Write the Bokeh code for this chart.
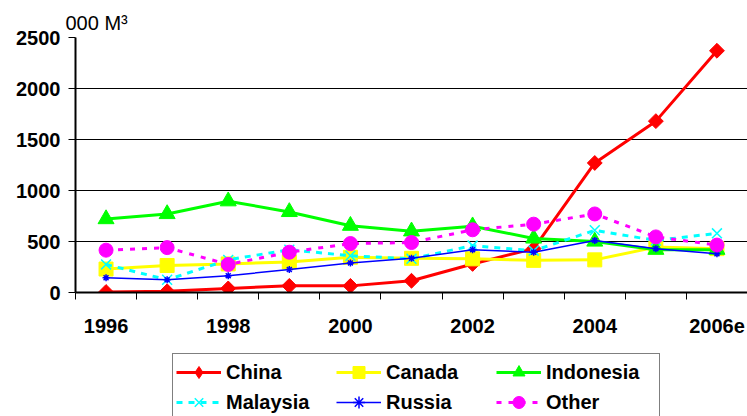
import math
from bokeh.plotting import figure
from bokeh.layouts import column
from bokeh.models import FixedTicker, Legend, LegendItem, Range1d
from bokeh.embed import file_html
from bokeh.resources import INLINE

years = ["1996", "1997", "1998", "1999", "2000", "2001", "2002", "2003", "2004", "2005", "2006e"]
tick_labels = ["1996", "1998", "2000", "2002", "2004", "2006e"]
china = [5, 12, 40, 65, 65, 115, 280, 430, 1270, 1680, 2370]
canada = [230, 265, 280, 300, 345, 335, 330, 315, 320, 445, 430]
indonesia = [720, 770, 895, 790, 655, 600, 650, 530, 500, 420, 420]
malaysia = [275, 125, 320, 420, 360, 330, 460, 410, 610, 510, 580]
russia = [145, 125, 165, 225, 290, 335, 420, 395, 510, 430, 380]
other = [415, 440, 275, 395, 480, 490, 615, 670, 770, 545, 465]

FONT = "Liberation Sans"
x = list(range(len(years)))

p = figure(width=747, height=343, output_backend="svg", toolbar_location=None,
           x_range=Range1d(-0.5, len(years) - 0.5), y_range=Range1d(0, 2500),
           min_border_left=75, min_border_top=37, min_border_bottom=51, min_border_right=0,
           title="000 M³")
p.outline_line_color = None
p.background_fill_color = "white"
p.title.text_font = FONT
p.title.text_font_size = "20px"
p.title.text_font_style = "normal"
p.title.text_color = "black"
p.title.align = "left"
p.title.offset = -10
p.title.standoff = 7

# axes
p.xaxis.ticker = FixedTicker(ticks=[i for i, y in enumerate(years) if y in tick_labels],
                             minor_ticks=[i + 0.5 for i in range(-1, len(years))])
p.xaxis.major_label_overrides = {i: y for i, y in enumerate(years)}
p.xaxis.major_tick_out = 0
p.xaxis.major_tick_in = 0
p.xaxis.minor_tick_out = 7
p.xaxis.minor_tick_in = 0
p.xaxis.minor_tick_line_color = "black"
p.xaxis.minor_tick_line_width = 1
p.xaxis.major_label_standoff = 19
p.yaxis.ticker = FixedTicker(ticks=[0, 500, 1000, 1500, 2000, 2500])
p.yaxis.minor_tick_line_color = None
p.yaxis.major_tick_out = 7
p.yaxis.major_tick_in = 0
p.yaxis.major_label_standoff = 8
for ax in (p.xaxis, p.yaxis):
    ax.axis_line_color = "black"
    ax.axis_line_width = 2
    ax.major_tick_line_color = "black"
    ax.major_label_text_font = FONT
    ax.major_label_text_font_style = "bold"
    ax.major_label_text_font_size = "20px"
    ax.major_label_text_color = "black"
p.xgrid.grid_line_color = None
p.ygrid.grid_line_color = "black"
p.ygrid.grid_line_width = 1.2

# name, values, colour, chart marker, size, line width, dash, angle, legend marker
series = [
    ("China", china, "#FF0000", "square", 10.5, 3, "solid", math.pi / 4, "diamond"),
    ("Canada", canada, "#FFFF00", "square", 14, 3, "solid", 0, "square"),
    ("Indonesia", indonesia, "#00FF00", "triangle", 16, 3, "solid", 0, "triangle"),
    ("Malaysia", malaysia, "#00FFFF", "x", 14, 3, "6 6", 0, "x"),
    ("Russia", russia, "#0000FF", "asterisk", 7, 1.5, "solid", 0, "asterisk"),
    ("Other", other, "#FF00FF", "circle", 14, 3, "5 7", 0, "circle"),
]

# legend lives in its own strip below the chart (its ranges hide the stand-in glyphs)
lg = figure(width=747, height=73, output_backend="svg", toolbar_location=None,
            x_range=Range1d(0, 1), y_range=Range1d(0, 1), x_axis_type=None, y_axis_type=None,
            min_border=0)
lg.outline_line_color = None
lg.xgrid.grid_line_color = None
lg.ygrid.grid_line_color = None

items = {}
for name, vals, color, marker, size, lw, dash, ang, lmarker in series:
    p.line(x, vals, line_color=color, line_width=lw, line_dash=dash)
    if marker in ("x", "asterisk"):
        p.scatter(x, vals, marker=marker, size=size, line_color=color, line_width=1.5)
    else:
        p.scatter(x, vals, marker=marker, size=size, angle=ang, fill_color=color, line_color=color)
    hx, hy = [5], [5]
    lr = lg.line(hx, hy, line_color=color, line_width=lw, line_dash=dash)
    if lmarker in ("x", "asterisk"):
        mr = lg.scatter(hx, hy, marker=lmarker, size=size, line_color=color, line_width=1.5)
    else:
        mr = lg.scatter(hx, hy, marker=lmarker, size=size, fill_color=color, line_color=color)
    items[name] = LegendItem(label=name, renderers=[lr, mr])

# column-major fill: rows read China/Canada/Indonesia, Malaysia/Russia/Other
order = ["China", "Malaysia", "Canada", "Russia", "Indonesia", "Other"]
legend = Legend(items=[items[n] for n in order], ncols=3, location=(97, -5),
                glyph_width=45, glyph_height=30, label_standoff=5, label_width=110,
                spacing=0, padding=3, margin=0,
                label_text_font=FONT, label_text_font_style="bold", label_text_font_size="20px",
                label_text_color="black",
                border_line_color="black", border_line_width=1, background_fill_alpha=1)
lg.add_layout(legend, "center")

page = column(p, lg, spacing=0)
open("out.html", "w").write(file_html(page, INLINE))
